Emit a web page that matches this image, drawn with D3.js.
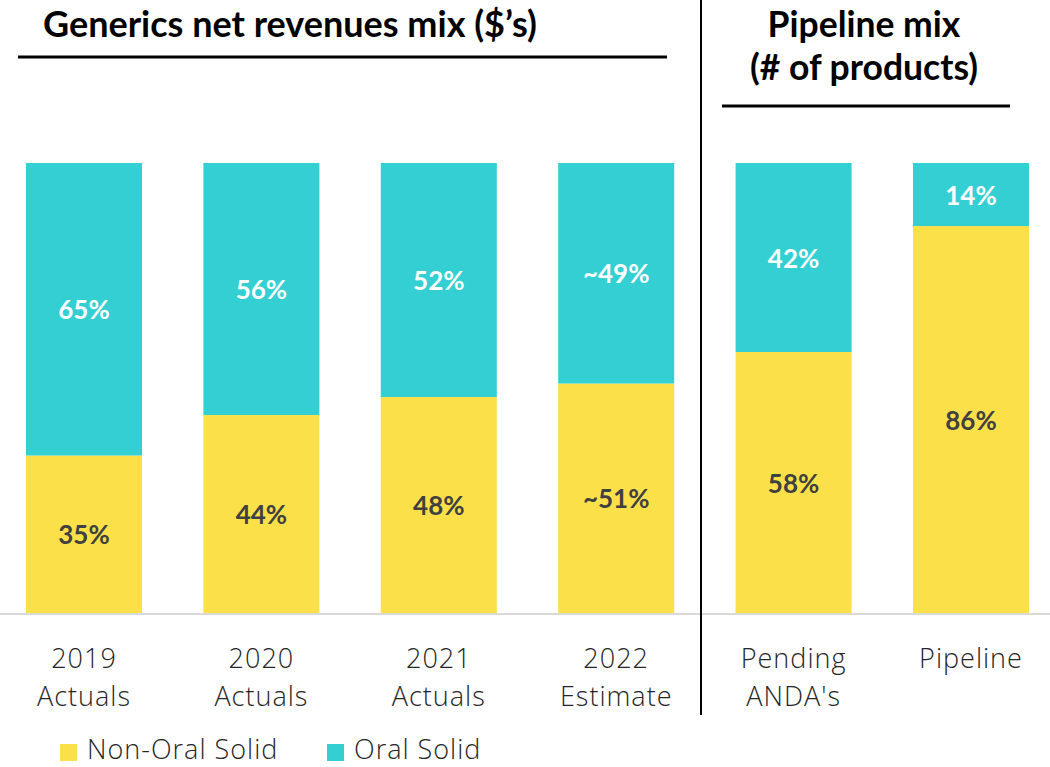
<!DOCTYPE html>
<html><head><meta charset="utf-8">
<script src="https://cdn.jsdelivr.net/npm/d3@7"></script>
<style>
body{margin:0;background:#fff;}
svg{display:block;font-family:Lato, "Open Sans", sans-serif;}
.light{font-family:"Open Sans", Lato, sans-serif;font-weight:300;letter-spacing:1px;}
</style></head>
<body><svg id="c" width="1050" height="767"></svg>
<script>
const categories = ["2019 Actuals","2020 Actuals","2021 Actuals","2022 Estimate","Pending ANDA's","Pipeline"];
const catLine1 = ["2019","2020","2021","2022","Pending","Pipeline"];
const catLine2 = ["Actuals","Actuals","Actuals","Estimate","ANDA's",""];
const nonOral = [35,44,48,51,58,86];
const oral = [65,56,52,49,42,14];
const nonOralLabels = ["35%","44%","48%","~51%","58%","86%"];
const oralLabels = ["65%","56%","52%","~49%","42%","14%"];
const seriesNames = ["Non-Oral Solid","Oral Solid"];
const colors = {"Non-Oral Solid":"#FBE04A","Oral Solid":"#33CFD3"};

const svg = d3.select("#c");
const x = d3.scaleBand().domain(categories).range([-4.7,1059.7]).paddingInner(0.346).paddingOuter(0.173);
const y = d3.scaleLinear().domain([0,100]).range([613,163]);

const data = categories.map((c,i)=>({cat:c, "Non-Oral Solid":nonOral[i], "Oral Solid":oral[i], i}));
const stack = d3.stack().keys(seriesNames)(data);

const g = svg.append("g");
stack.forEach(layer=>{
  g.selectAll(null).data(layer).enter().append("rect")
    .attr("x",d=>x(d.data.cat)).attr("width",x.bandwidth())
    .attr("y",d=>y(d[1])).attr("height",d=>y(d[0])-y(d[1]))
    .attr("fill",colors[layer.key]);
  g.selectAll(null).data(layer).enter().append("text")
    .attr("x",d=>x(d.data.cat)+x.bandwidth()/2)
    .attr("y",d=>(y(d[0])+y(d[1]))/2 + 10)
    .attr("text-anchor","middle")
    .attr("font-size",26).attr("font-weight",700)
    .attr("fill",layer.key==="Oral Solid"?"#ffffff":"#404040")
    .text(d=>layer.key==="Oral Solid"?oralLabels[d.data.i]:nonOralLabels[d.data.i]);
});

// baseline
svg.append("line").attr("x1",0).attr("x2",1050).attr("y1",y(0)+1).attr("y2",y(0)+1)
  .attr("stroke","#d9d9d9").attr("stroke-width",2);

// axis
const axis = svg.append("g").attr("transform",`translate(0,${y(0)})`)
  .call(d3.axisBottom(x).tickSize(0).tickFormat(""));
axis.select(".domain").remove();
axis.selectAll(".tick").each(function(d,i){
  const t = d3.select(this).append("text").attr("class","light").attr("text-anchor","middle")
    .attr("fill","#262626").attr("font-size",27);
  t.append("tspan").attr("x",0).attr("y",55).text(catLine1[i]);
  t.append("tspan").attr("x",0).attr("y",93).text(catLine2[i]);
});

// divider
svg.append("line").attr("x1",701).attr("x2",701).attr("y1",0).attr("y2",715)
  .attr("stroke","#000").attr("stroke-width",2);

// titles
svg.append("text").attr("x",290).attr("y",37).attr("text-anchor","middle")
  .attr("font-size",36).attr("font-weight",700).attr("fill","#000")
  .text("Generics net revenues mix ($\u2019s)");
svg.append("line").attr("x1",18).attr("x2",667).attr("y1",57).attr("y2",57).attr("stroke","#000").attr("stroke-width",3);
svg.append("text").attr("x",864).attr("y",37).attr("text-anchor","middle")
  .attr("font-size",35.5).attr("font-weight",700).attr("fill","#000").text("Pipeline mix");
svg.append("text").attr("x",864).attr("y",80).attr("text-anchor","middle")
  .attr("font-size",35.5).attr("font-weight",700).attr("fill","#000").text("(# of products)");
svg.append("line").attr("x1",722).attr("x2",1010).attr("y1",106).attr("y2",106).attr("stroke","#000").attr("stroke-width",3);

// legend
const leg = svg.append("g");
seriesNames.forEach((s,i)=>{
  const lx = [60,327][i];
  leg.append("rect").attr("x",lx).attr("y",744).attr("width",17).attr("height",17).attr("fill",colors[s]);
  leg.append("text").attr("class","light").attr("x",lx+27).attr("y",759).attr("font-size",27)
    .attr("fill","#262626").text(s);
});
</script></body></html>
